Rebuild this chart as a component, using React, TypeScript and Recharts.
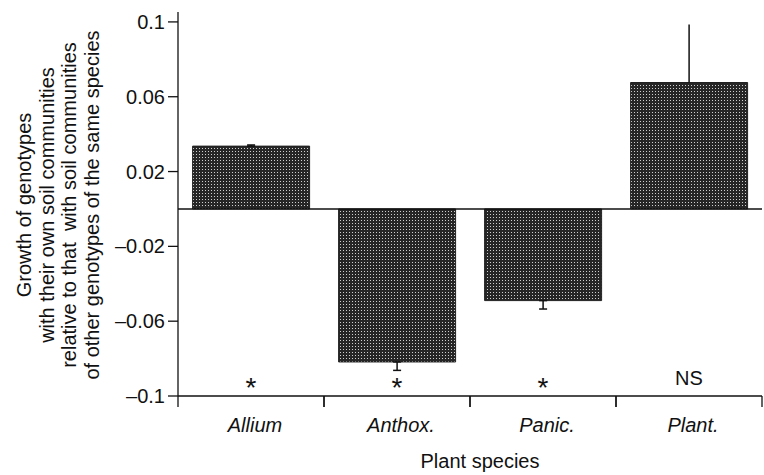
import React from "react";
import {
  BarChart,
  Bar,
  XAxis,
  YAxis,
  ErrorBar,
  ReferenceLine,
  ReferenceDot,
} from "recharts";

const species = ["Allium", "Anthox.", "Panic.", "Plant."];
const growth = [0.0336, -0.0818, -0.049, 0.0676];
// [below, above] spread of the error bar; plant has no cap in the figure
const errCapped: ([number, number] | undefined)[] = [[0, 0.0006], [0.0045, 0], [0.0045, 0], undefined];
const errPlain: ([number, number] | undefined)[] = [undefined, undefined, undefined, [0, 0.031]];
const sigLabels = ["*", "*", "*", "NS"];
const yTicks = [-0.1, -0.06, -0.02, 0.02, 0.06, 0.1];

const data = species.map((name, i) => ({
  name,
  growth: growth[i],
  errCapped: errCapped[i],
  errPlain: errPlain[i],
}));

const W = 764;
const H = 475;
const margin = { top: 12, right: 2, bottom: 0, left: 0 };
const yAxisWidth = 178;
const band = (W - margin.right - yAxisWidth) / species.length;
const font = "'Liberation Sans', Arial, Helvetica, sans-serif";
const fs = 20;

const fmt = (v: number) => (v < 0 ? "\u2013" + String(Math.abs(v)) : String(v));

function XTick(props: any) {
  const { x, y, payload } = props;
  return (
    <g>
      <line x1={x - band / 2} y1={y} x2={x - band / 2} y2={y + 11} stroke="#111" strokeWidth={1.3} />
      <line x1={x + band / 2} y1={y} x2={x + band / 2} y2={y + 11} stroke="#111" strokeWidth={1.3} />
      <text x={x + 4} y={y + 36} textAnchor="middle" fontStyle="italic" fontSize={fs} fontFamily={font} fill="#111">
        {payload.value}
      </text>
    </g>
  );
}

function YTitle() {
  const cy = 205;
  const lines = [
    "Growth of genotypes",
    "with their own soil communities",
    "relative to that  with soil communities",
    "of other genotypes of the same species",
  ];
  return (
    <g>
      {lines.map((t, i) => {
        const x = 31 + i * 22.5;
        return (
          <text
            key={i}
            x={x}
            y={cy}
            transform={`rotate(-90 ${x} ${cy})`}
            textAnchor="middle"
            fontSize={fs}
            fontFamily={font}
            fill="#111"
            style={{ whiteSpace: "pre" }}
          >
            {t}
          </text>
        );
      })}
    </g>
  );
}

function SigLabel(text: string) {
  return (props: any) => {
    const { viewBox } = props;
    const star = text === "*";
    return (
      <text
        x={viewBox.x}
        y={viewBox.y}
        textAnchor="middle"
        dominantBaseline="central"
        fontSize={star ? 28 : fs}
        fontFamily={font}
        fill="#111"
      >
        {text}
      </text>
    );
  };
}

export default function App() {
  return (
    <div style={{ position: "absolute", left: 0, top: 0, background: "#fff" }}>
      <BarChart width={W} height={H} data={data} margin={margin} barCategoryGap="10%">
        <defs>
          <pattern id="dots" width="3" height="3" patternUnits="userSpaceOnUse">
            <rect width="3" height="3" fill="#262626" />
            <rect x="1" y="1" width="1" height="1" fill="#cfcfcf" />
          </pattern>
        </defs>
        <XAxis
          dataKey="name"
          axisLine={{ stroke: "#111", strokeWidth: 1.3 }}
          tickLine={false}
          tickSize={0}
          tickMargin={0}
          tick={<XTick />}
          interval={0}
          height={79}
          label={{ value: "Plant species", position: "insideBottom", offset: 7, dx: 10, fontSize: fs, fontFamily: font, fill: "#111" } as any}
        />
        <YAxis
          width={yAxisWidth}
          domain={[-0.1, 0.1053]}
          ticks={yTicks}
          allowDataOverflow
          tickFormatter={fmt}
          tickSize={10}
          tickMargin={3}
          axisLine={{ stroke: "#111", strokeWidth: 1.3 }}
          tickLine={{ stroke: "#111", strokeWidth: 1.3 }}
          tick={{ fontSize: fs, fontFamily: font, fill: "#111" }}
          label={<YTitle />}
        />
        <Bar dataKey="growth" fill="url(#dots)" stroke="#222" strokeWidth={1} isAnimationActive={false}>
          <ErrorBar dataKey="errCapped" width={4} stroke="#111" strokeWidth={1.5} direction="y" />
          <ErrorBar dataKey="errPlain" width={0} stroke="#111" strokeWidth={1.5} direction="y" />
        </Bar>
        <ReferenceLine y={0} stroke="#111" strokeWidth={1.5} />
        {species.map((s, i) => (
          <ReferenceDot
            key={s}
            x={s}
            y={sigLabels[i] === "*" ? -0.0952 : -0.0903}
            r={0}
            fill="none"
            stroke="none"
            label={SigLabel(sigLabels[i])}
          />
        ))}
      </BarChart>
    </div>
  );
}
